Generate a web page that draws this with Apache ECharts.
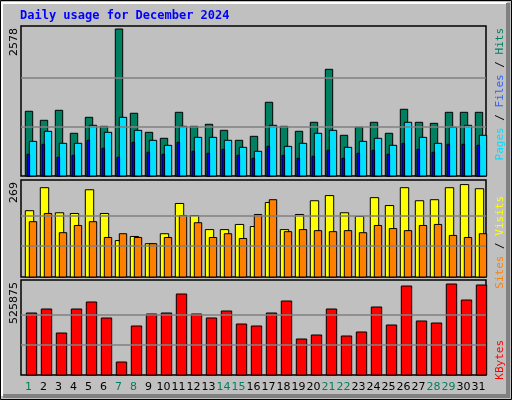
<!DOCTYPE html>
<html><head><meta charset="utf-8">
<script src="https://cdn.jsdelivr.net/npm/echarts@6/dist/echarts.min.js"></script>
<style>html,body{margin:0;padding:0;background:#c0c0c0}#c{width:512px;height:400px}</style>
</head><body><div id="c"></div>
<script>
const days = ['1','2','3','4','5','6','7','8','9','10','11','12','13','14','15','16','17','18','19','20','21','22','23','24','25','26','27','28','29','30','31'];
const weekend = [1,7,8,14,15,21,22,28,29];
const hits = [1135,977,1152,749,1029,871,2578,1100,766,661,1117,871,907,801,626,696,1293,871,784,942,1871,714,854,942,749,1170,942,924,1117,1117,1117];
const files = [608,784,573,573,889,766,1029,801,626,538,871,678,678,626,503,433,889,520,573,749,801,503,608,661,538,942,678,573,854,889,714];
const pages = [380,556,328,363,626,486,328,591,416,380,591,433,398,468,363,310,520,363,310,346,451,310,398,451,380,573,468,416,556,556,538];
const visits = [193,260,187,185,254,185,106,118,97,126,214,179,138,138,153,147,217,138,182,222,237,187,176,231,208,260,222,225,260,269,257];
const sites = [161,185,129,150,161,115,126,115,97,115,179,158,115,126,112,182,225,132,138,135,132,135,129,150,141,135,150,153,121,115,126];
const kbytes = [358300,381400,242700,381400,421900,329400,75100,283200,352500,358300,468100,352500,329400,369900,294700,283200,358300,427600,208000,231200,381400,225400,248500,393000,289000,514300,312100,300500,525875,433400,520100];
const maxHits = 2578, maxVisits = 269, maxKB = 525875;

function barSeries(name, data, gi, color, off, w) {
  return {
    type: 'custom', name, xAxisIndex: gi, yAxisIndex: gi,
    data: data.map((v, i) => [i, v]),
    renderItem: function (params, api) {
      const p = api.coord([api.value(0), api.value(1)]);
      const b = api.coord([api.value(0), 0]);
      return { type: 'rect', shape: { x: p[0] + off, y: p[1], width: w, height: b[1] - p[1] },
        style: { fill: color, stroke: '#000', lineWidth: 1 } };
    }
  };
}
function gridLines(gi, max) {
  return { type: 'line', xAxisIndex: gi, yAxisIndex: gi, data: [], silent: true,
    markLine: { silent: true, symbol: 'none', label: { show: false },
      lineStyle: { color: '#808080', type: 'solid', width: 1.5 },
      data: [{ yAxis: max / 3 }, { yAxis: max * 2 / 3 }] } };
}
const grids = [
  { left: 21, top: 26, width: 465, height: 150 },
  { left: 21, top: 180, width: 465, height: 97 },
  { left: 21, top: 280, width: 465, height: 95 }
].map(g => Object.assign(g, { show: true, backgroundColor: '#c0c0c0', borderColor: '#000', borderWidth: 1.5 }));
const yMax = [maxHits * 150 / 147, maxVisits * 97 / 92.4, maxKB * 95 / 91];
const xAxes = [0, 1, 2].map(i => ({
  type: 'category', gridIndex: i, data: days, axisTick: { show: false }, axisLine: { show: false },
  axisLabel: i === 2 ? {
    show: true, margin: 7, fontFamily: 'DejaVu Sans', fontSize: 11, interval: 0,
    formatter: v => weekend.includes(+v) ? '{g|' + v + '}' : '{n|' + v + '}',
    rich: { g: { color: '#008060', fontSize: 11, fontFamily: 'DejaVu Sans' }, n: { color: '#000', fontSize: 11, fontFamily: 'DejaVu Sans' } }
  } : { show: false }
}));
const yAxes = [0, 1, 2].map(i => ({ type: 'value', gridIndex: i, min: 0, max: yMax[i],
  axisLabel: { show: false }, splitLine: { show: false }, axisLine: { show: false }, axisTick: { show: false } }));

function vtext(x, y, rich, text) {
  return { type: 'text', x, y, rotation: Math.PI / 2,
    style: { text, rich, fontFamily: 'DejaVu Sans Mono', fontSize: 11, align: 'right', verticalAlign: 'middle' } };
}
const chart = echarts.init(document.getElementById('c'));
chart.setOption({
  backgroundColor: '#c0c0c0', animation: false,
  grid: grids, xAxis: xAxes, yAxis: yAxes,
  graphic: [
    { type: 'rect', shape: { x: 0.5, y: 0.5, width: 511, height: 399 }, style: { fill: 'none', stroke: '#000', lineWidth: 1 }, z: -1 },
    { type: 'polyline', shape: { points: [[2, 396], [2, 3], [507, 3]] }, style: { stroke: '#fff', lineWidth: 2, fill: 'none' } },
    { type: 'polyline', shape: { points: [[3, 396], [508, 396], [508, 3]] }, style: { stroke: '#808080', lineWidth: 4, fill: 'none' } },
    { type: 'text', x: 20, y: 10, style: { text: 'Daily usage for December 2024', fill: '#0000ff', fontFamily: 'DejaVu Sans Mono', fontWeight: 'bold', fontSize: 12 } },
    { type: 'text', x: 14, y: 28, rotation: Math.PI / 2, style: { text: String(maxHits), fill: '#000', fontFamily: 'DejaVu Sans', fontSize: 11, align: 'right', verticalAlign: 'middle' } },
    { type: 'text', x: 14, y: 182, rotation: Math.PI / 2, style: { text: String(maxVisits), fill: '#000', fontFamily: 'DejaVu Sans', fontSize: 11, align: 'right', verticalAlign: 'middle' } },
    { type: 'text', x: 14, y: 282, rotation: Math.PI / 2, style: { text: String(maxKB), fill: '#000', fontFamily: 'DejaVu Sans', fontSize: 11, align: 'right', verticalAlign: 'middle' } },
    vtext(500, 28, { p: { fill: '#00e0ff' }, f: { fill: '#3060ff' }, h: { fill: '#008060' }, s: { fill: '#000' } }, '{p|Pages}{s| / }{f|Files}{s| / }{h|Hits}'),
    vtext(500, 196, { a: { fill: '#ff8000' }, b: { fill: '#ffff00' }, s: { fill: '#000' } }, '{a|Sites}{s| / }{b|Visits}'),
    vtext(500, 340, { k: { fill: '#ff0000' } }, '{k|KBytes}')
  ],
  series: [
    gridLines(0, maxHits), gridLines(1, maxVisits), gridLines(2, maxKB),
    barSeries('Hits', hits, 0, '#008060', -3.2, 7.4),
    barSeries('Files', files, 0, '#00e0ff', 0.8, 7.4),
    barSeries('Pages', pages, 0, '#0000ff', -1.5, 2.6),
    barSeries('Visits', visits, 1, '#ffff00', -3.2, 8.4),
    barSeries('Sites', sites, 1, '#ff8000', 0.8, 7.4),
    barSeries('KBytes', kbytes, 2, '#ff0000', -2.2, 10.4)
  ]
});
</script></body></html>
